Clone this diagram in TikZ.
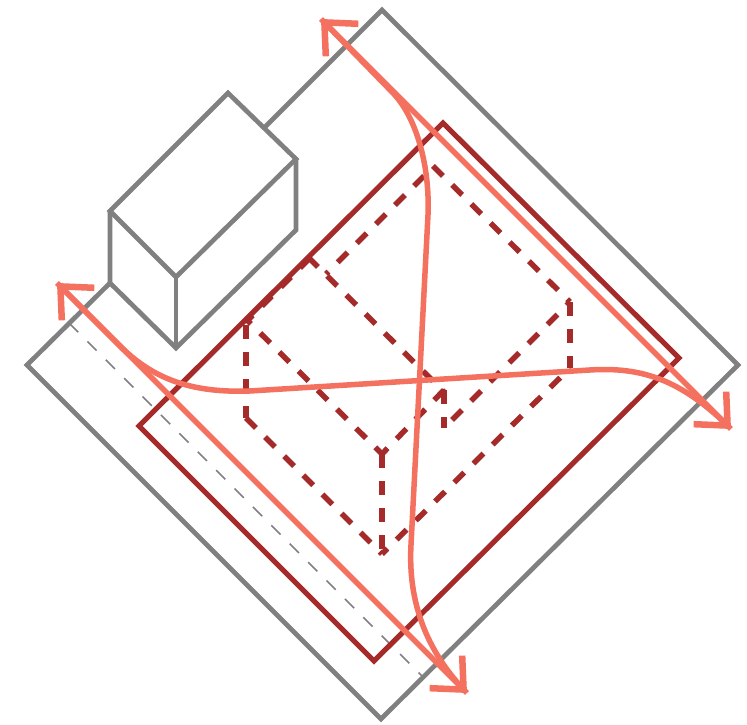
\documentclass[tikz,border=0pt]{standalone}
\usepackage{xcolor}
\usetikzlibrary{arrows.meta}
\definecolor{siteGray}{HTML}{808080}
\definecolor{zoneRed}{HTML}{A52A2A}
\definecolor{flowCoral}{HTML}{F4705F}
\tikzset{
  siteline/.style={draw=siteGray, line width=0.047cm},
  axisline/.style={draw=siteGray, line width=0.017cm, dash pattern=on 0.13cm off 0.13cm},
  zoneline/.style={draw=zoneRed, line width=0.052cm},
  massline/.style={draw=zoneRed, line width=0.055cm, dash pattern=on 0.14cm off 0.13cm},
  flowline/.style={draw=flowCoral, line width=0.055cm},
  flowhead/.style={{Straight Barb[length=0.25cm, width=0.46cm, line width=0.065cm]}-{Straight Barb[length=0.25cm, width=0.46cm, line width=0.065cm]}}
}
\begin{document}
\begin{tikzpicture}[x=0.01cm, y=-0.01cm]
    \useasboundingbox (0,0) rectangle (747,725);
    % Site outline
    \draw[siteline] (265,127) -- (382,10) -- (738,365) -- (381,719) -- (27,365) -- (110,283);
    % Building
    \draw[siteline] (110,211) -- (228,93) -- (296,159) -- (176,277) -- cycle;
    \draw[siteline] (110,211) -- (110,283) -- (176,348) -- (296,230) -- (296,159);
    \draw[siteline] (176,277) -- (176,348);
    % Axis
    \draw[axisline] (69,323) -- (423,677);
    % Zone
    \draw[zoneline] (443,123) -- (679,358) -- (374,661) -- (139,426) -- cycle;
    % Dashed mass
    \draw[massline] (246,325) -- (246,418);
    \draw[massline] (246,418) -- (382,554);
    \draw[massline, dash phase=0.064cm] (382,554) -- (570,368);
    \draw[massline] (570,302) -- (570,368);
    \draw[massline] (433,166) -- (570,302);
    \draw[massline] (424,176) -- (326,274);
    \draw[massline] (310,258) -- (246,322);
    \draw[massline] (308,257) -- (444,392);
    \draw[massline, dash phase=0.07cm] (246,319) -- (382,454);
    \draw[massline] (444,390) -- (382,454);
    \draw[massline] (382,454) -- (382,554);
    \draw[massline] (444,390) -- (444,428);
    \draw[massline] (452,420) -- (570,302);
    % Flows
    \draw[flowline] (321,19) -- (392,92) .. controls (416,116) and (430,165) .. (428,215) -- (411,545) .. controls (408,600) and (425,650) .. (467,693);
    \draw[flowline] (57,283) -- (120,346) .. controls (155,381) and (195,393) .. (250,391) -- (590,370) .. controls (640,367) and (680,378) .. (731,429);
    \draw[flowline, flowhead] (321,19) -- (731,429);
    \draw[flowline, flowhead] (57,283) -- (467,693);
\end{tikzpicture}
\end{document}
